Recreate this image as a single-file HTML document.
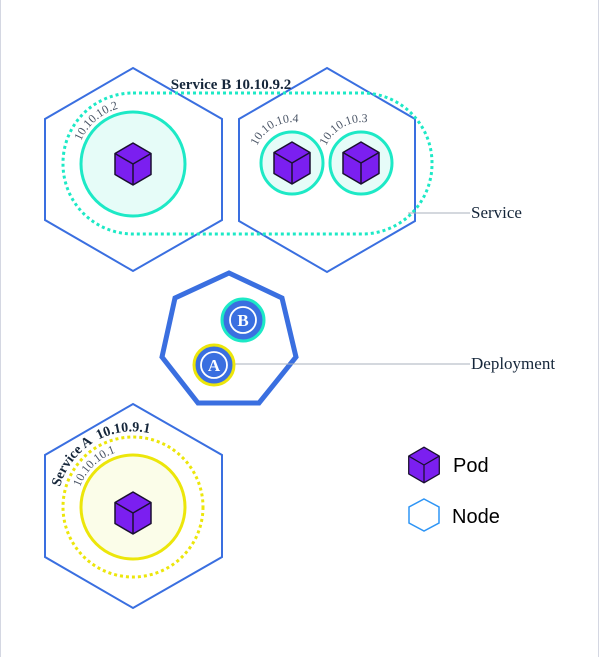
<!DOCTYPE html>
<html><head><meta charset="utf-8"><style>
html,body{margin:0;padding:0;background:#fff}
svg{display:block}
</style></head><body>
<svg width="600" height="657" viewBox="0 0 600 657" xmlns="http://www.w3.org/2000/svg">
<defs>
<g id="cube">
<polygon points="0,-21 18,-10.5 18,10.5 0,21 -18,10.5 -18,-10.5" fill="#7b1ff0" stroke="#1a1030" stroke-width="1.5" stroke-linejoin="round"/>
<polyline points="-18,-10.5 0,0 18,-10.5" fill="none" stroke="#1a1030" stroke-width="1.5" stroke-linejoin="round"/>
<line x1="0" y1="0" x2="0" y2="21" stroke="#1a1030" stroke-width="1.5"/>
</g>
<path id="a1" d="M 81 141 A 57 57 0 0 1 177 127"/>
<path id="a2" d="M 257 146 A 40 40 0 0 1 327 140"/>
<path id="a3" d="M 326 146 A 40 40 0 0 1 396 140"/>
<path id="a4" d="M 60 487 A 76 76 0 0 1 191 458"/>
<path id="a5" d="M 80 487 A 57 57 0 0 1 177 470"/>
</defs>
<line x1="0.5" y1="0" x2="0.5" y2="657" stroke="#d4d7e2" stroke-width="1"/>
<line x1="598.5" y1="0" x2="598.5" y2="657" stroke="#d4d7e2" stroke-width="1"/>

<polygon points="133,68 222,119 222,220 133,271 45,220 45,119" fill="none" stroke="#3a6fe0" stroke-width="2"/>
<polygon points="327,68 415,119 415,221 327,272 239,221 239,119" fill="none" stroke="#3a6fe0" stroke-width="2"/>
<polygon points="133,404 222,455 222,557 133,608 45,557 45,455" fill="none" stroke="#3a6fe0" stroke-width="2"/>

<rect x="63" y="93" width="369" height="141" rx="70" ry="70" fill="none" stroke="#1de9c6" stroke-width="3" stroke-dasharray="3,3"/>
<circle cx="133" cy="164" r="52" fill="#e6fcf8" stroke="#1de9c6" stroke-width="3"/>
<circle cx="292" cy="163" r="31" fill="#e6fcf8" stroke="#1de9c6" stroke-width="3"/>
<circle cx="361" cy="163" r="31" fill="#e6fcf8" stroke="#1de9c6" stroke-width="3"/>
<use href="#cube" x="133" y="164"/>
<use href="#cube" x="292" y="163"/>
<use href="#cube" x="361" y="163"/>
<text x="231" y="89" text-anchor="middle" font-family="Liberation Serif, serif" font-weight="bold" font-size="15" fill="#15263a">Service B 10.10.9.2</text>
<g font-family="Liberation Serif, serif" font-size="12" fill="#4a5566">
<text><textPath href="#a1" startOffset="0">10.10.10.2</textPath></text>
<text><textPath href="#a2" startOffset="0">10.10.10.4</textPath></text>
<text><textPath href="#a3" startOffset="0">10.10.10.3</textPath></text>
<text><textPath href="#a5" startOffset="0">10.10.10.1</textPath></text>
</g>

<circle cx="133" cy="507" r="70" fill="none" stroke="#ece60a" stroke-width="3" stroke-dasharray="3,3"/>
<circle cx="133" cy="507" r="52" fill="#fbfde9" stroke="#ece60a" stroke-width="3"/>
<use href="#cube" x="133" y="513"/>
<text font-family="Liberation Serif, serif" font-weight="bold" font-size="14" fill="#15263a" xml:space="preserve"><textPath href="#a4" startOffset="0">Service A  10.10.9.1</textPath></text>

<polygon points="229,273 282,298 296,357 259,403 198,403 162,357 175,298" fill="none" stroke="#3a6fe0" stroke-width="5" stroke-linejoin="miter"/>
<circle cx="243" cy="320" r="21" fill="#3a6fe0" stroke="#1de9c6" stroke-width="3"/>
<circle cx="243" cy="320" r="13" fill="none" stroke="#fff" stroke-width="1.8"/>
<text x="243" y="326" text-anchor="middle" font-family="Liberation Serif, serif" font-weight="bold" font-size="17" fill="#fff">B</text>
<line x1="235" y1="364" x2="470" y2="364" stroke="#a9b1bd" stroke-width="1"/>
<circle cx="214" cy="365" r="20" fill="#3a6fe0" stroke="#ece60a" stroke-width="3"/>
<circle cx="214" cy="365" r="13" fill="none" stroke="#fff" stroke-width="1.8"/>
<text x="214" y="371" text-anchor="middle" font-family="Liberation Serif, serif" font-weight="bold" font-size="17" fill="#fff">A</text>

<line x1="408" y1="213" x2="470" y2="213" stroke="#a9b1bd" stroke-width="1"/>
<text x="471" y="218" font-family="Liberation Serif, serif" font-size="17" fill="#15263a">Service</text>
<text x="471" y="369" font-family="Liberation Serif, serif" font-size="17" fill="#15263a">Deployment</text>

<g transform="translate(424,465) scale(0.85)"><use href="#cube"/></g>
<text x="453" y="472" font-family="Liberation Sans, sans-serif" font-size="20" fill="#000">Pod</text>
<polygon points="424,499 439,507 439,523 424,531 409,523 409,507" fill="none" stroke="#2e95f5" stroke-width="1.5"/>
<text x="452" y="523" font-family="Liberation Sans, sans-serif" font-size="20" fill="#000">Node</text>
</svg>
</body></html>
